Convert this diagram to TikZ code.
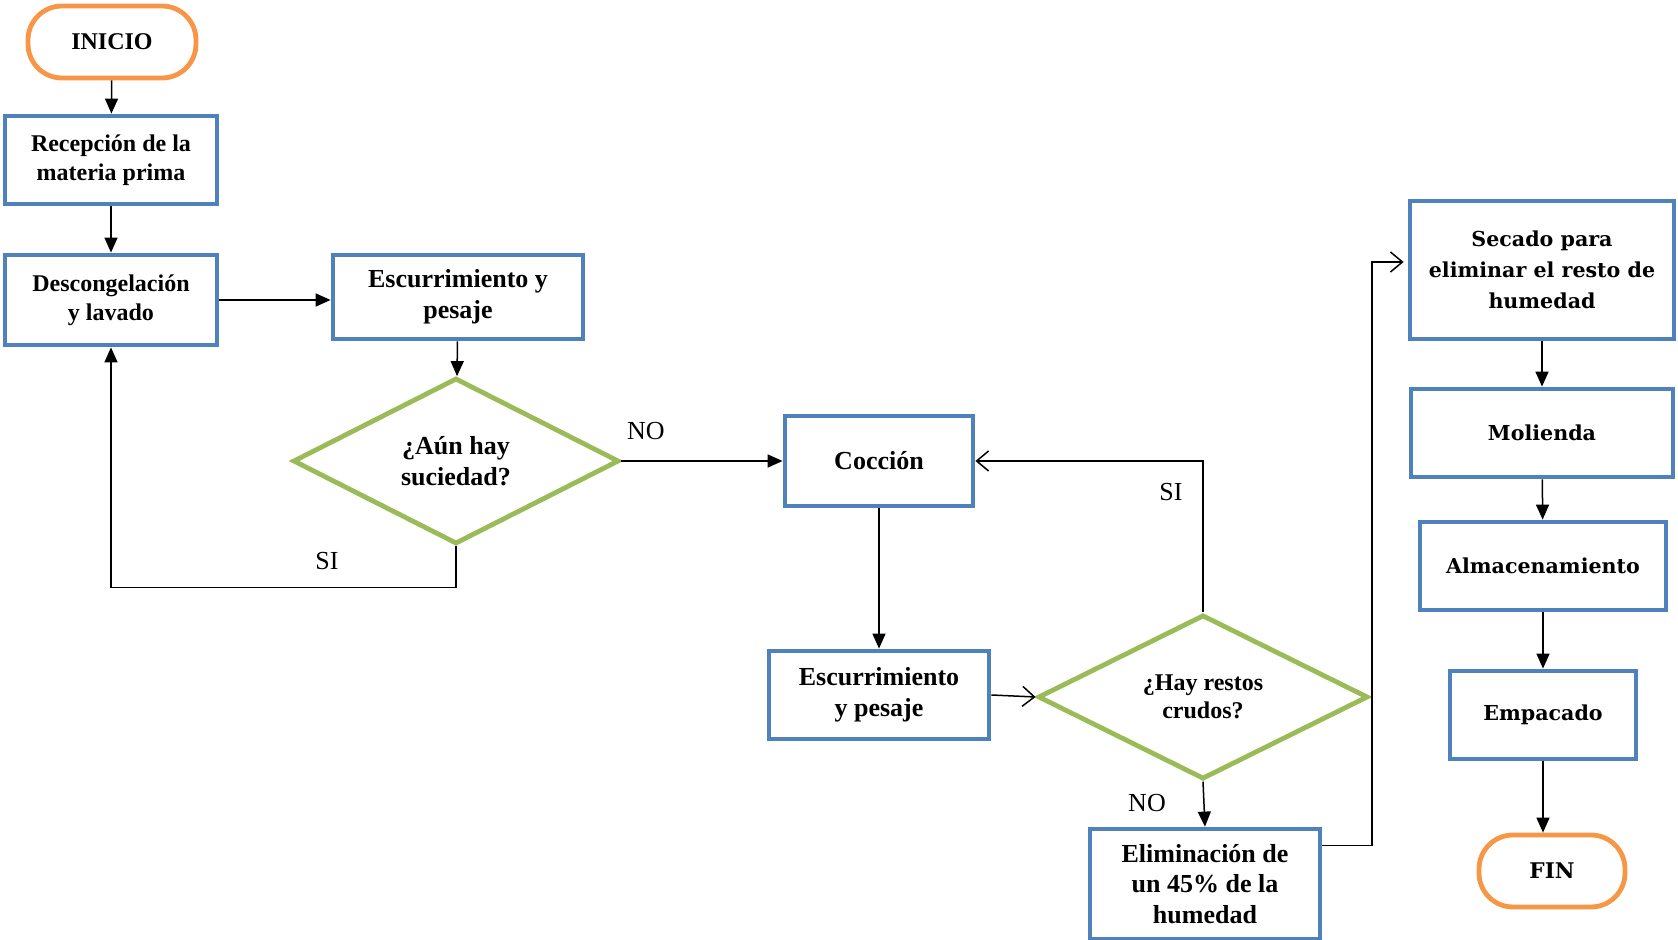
\documentclass[tikz,border=0pt]{standalone}
\usepackage{fontspec}
\setmainfont{Liberation Serif}
\newfontfamily\anchafont{DejaVu Serif}
\usetikzlibrary{shapes.geometric,arrows.meta}
\definecolor{azul}{HTML}{4F81BD}
\definecolor{verde}{HTML}{9BBB59}
\definecolor{naranja}{HTML}{F79646}

\tikzset{
    caja/.style={draw=azul, line width=2.4pt, rectangle, align=center, inner sep=1pt,
        font=\bfseries\fontsize{13}{15.3}\selectfont},
    cajaancha/.style={caja, font=\anchafont\bfseries\fontsize{10.3}{15.5}\selectfont},
    decision/.style={draw=verde, line width=2.4pt, diamond, align=center, inner sep=0pt,
        font=\bfseries\fontsize{13}{15.3}\selectfont},
    terminal/.style={draw=naranja, line width=2.4pt, rectangle, rounded corners=17pt, align=center},
    flecha/.style={-{Triangle[length=7.5pt,width=6.5pt]}, line width=0.75pt},
    abierta/.style={-{Straight Barb[length=6pt,width=10pt]}, line width=0.75pt},
    etiqueta/.style={font=\fontsize{13}{15}\selectfont}
}

\begin{document}
\begin{tikzpicture}[x=0.5pt, y=-0.5pt]
    \useasboundingbox (0,0) rectangle (1678,940);

    % columna izquierda
    \node[terminal, minimum width=84pt, minimum height=36pt,
        font=\bfseries\fontsize{12}{14}\selectfont] (inicio) at (112, 42) {INICIO};
    \node[caja, minimum width=106pt, minimum height=44pt,
        font=\bfseries\fontsize{12}{14.5}\selectfont] (recepcion) at (111, 160) {Recepción de la\\materia prima};
    \node[caja, minimum width=106pt, minimum height=45pt,
        font=\bfseries\fontsize{12}{14.5}\selectfont] (descong) at (111, 300) {Descongelación\\y lavado};
    \node[caja, minimum width=125pt, minimum height=42pt] (escur1) at (458, 297) {Escurrimiento y\\pesaje};
    \node[decision, minimum width=163pt, minimum height=83pt] (dec1) at (456, 461) {¿Aún hay\\suciedad?};

    % centro
    \node[caja, minimum width=94pt, minimum height=45pt] (coccion) at (879, 461) {Cocción};
    \node[caja, minimum width=110pt, minimum height=44pt] (escur2) at (879, 695) {Escurrimiento\\y pesaje};
    \node[decision, minimum width=165pt, minimum height=77pt,
        font=\bfseries\fontsize{12}{14}\selectfont] (dec2) at (1203, 697) {¿Hay restos\\crudos?};
    \node[caja, minimum width=115pt, minimum height=55pt] (elim) at (1205, 884) {Eliminación de\\un 45\% de la\\humedad};

    % columna derecha
    \node[cajaancha, minimum width=132pt, minimum height=69pt] (secado) at (1542, 270) {Secado para\\eliminar el resto de\\humedad};
    \node[cajaancha, minimum width=131pt, minimum height=44pt] (molienda) at (1542, 433) {Molienda};
    \node[cajaancha, minimum width=123pt, minimum height=44pt] (almacen) at (1543, 566) {Almacenamiento};
    \node[cajaancha, minimum width=93pt, minimum height=44pt] (empacado) at (1543, 715) {Empacado};
    \node[terminal, minimum width=73pt, minimum height=36pt,
        font=\anchafont\bfseries\fontsize{10.8}{13}\selectfont] (fin) at (1552, 871) {FIN};

    % conectores
    \draw[flecha] (inicio) -- (recepcion);
    \draw[flecha] (recepcion) -- (descong);
    \draw[flecha] (descong.east) -- (descong.east -| escur1.west);
    \draw[flecha] (escur1) -- (dec1);
    \draw[flecha] (dec1.south) -- ++(0,41) -| (descong.south);
    \draw[flecha] (dec1.east) -- (coccion.west);
    \draw[flecha] (coccion) -- (escur2);
    \draw[abierta] (escur2.east) -- (dec2.west);
    \draw[abierta] (dec2.north) |- (coccion.east);
    \draw[flecha] (dec2.south) -- (elim.north);
    \coordinate (codo) at (1372, 262);
    \draw[abierta, shorten >=2pt] ([yshift=-9.5pt]elim.north east) -| (codo) -- (codo -| secado.west);
    \draw[flecha] (secado) -- (molienda);
    \draw[flecha] (molienda) -- (almacen);
    \draw[flecha] (almacen) -- (empacado);
    \draw[flecha] (empacado.south) -- (empacado.south |- fin.north);

    % etiquetas
    \node[etiqueta] (si1) at (327, 561) {SI};
    \node[etiqueta] (no1) at (646, 431) {NO};
    \node[etiqueta] (si2) at (1171, 492) {SI};
    \node[etiqueta] (no2) at (1147, 803) {NO};
\end{tikzpicture}
\end{document}
